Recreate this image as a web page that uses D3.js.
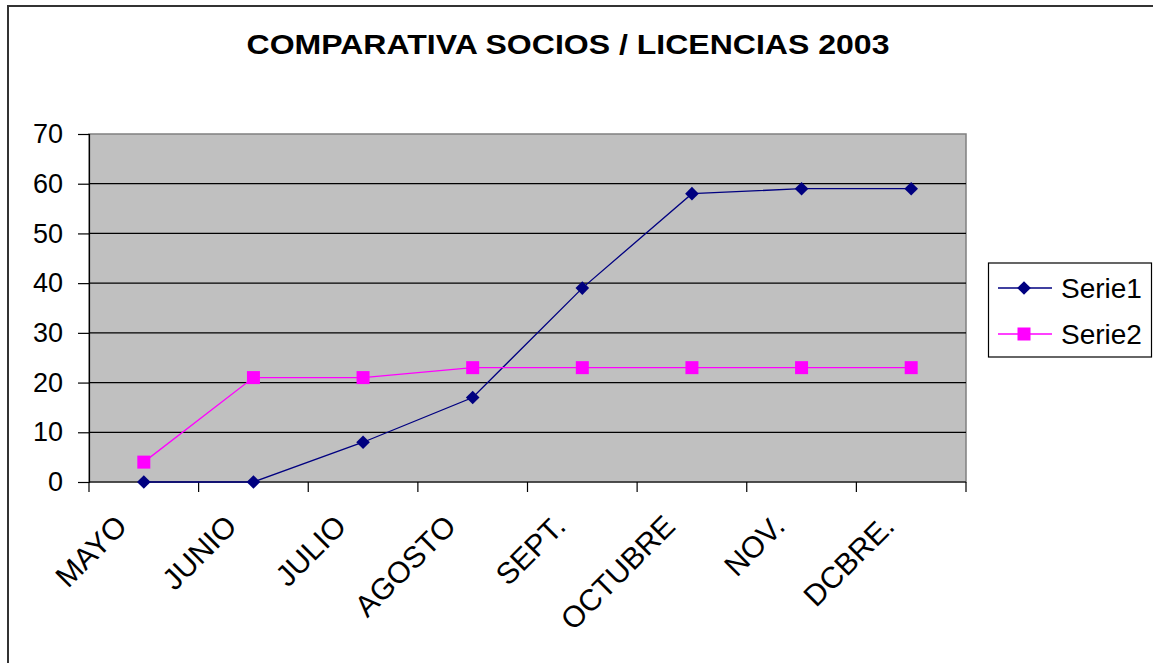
<!DOCTYPE html>
<html>
<head>
<meta charset="utf-8">
<script src="https://cdn.jsdelivr.net/npm/d3@7"></script>
<style>
  body{margin:0;background:#fff;}
  svg{display:block;font-family:Arial,"Liberation Sans",sans-serif;}
</style>
</head>
<body>
<div id="chart"></div>
<script>
// comparativa socios / licencias -- excel-style line chart

const MONTHS=["MAYO","JUNIO","JULIO","AGOSTO","SEPT.","OCTUBRE","NOV.","DCBRE."];
const SERIE1=[0,0,8,17,39,58,59,59];
const SERIE2=[4,21,21,23,23,23,23,23];
const Y_TICKS=[0,10,20,30,40,50,60,70];
const SERIES_NAMES=["Serie1","Serie2"];
const TITLE="COMPARATIVA SOCIOS / LICENCIAS 2003";

const W=1153,H=663;
const PL=89,PR=966,PT=134,PB=482;

const svg=d3.select("#chart").append("svg").attr("width",W).attr("height",H);

// outer chart border
svg.append("rect").attr("x",8).attr("y",6).attr("width",W+20).attr("height",H+20)
  .attr("fill","#fff").attr("stroke","#333").attr("stroke-width",2);

const x=d3.scaleBand().domain(MONTHS).range([PL,PR]);
const y=d3.scaleLinear().domain([0,70]).range([PB,PT]);
const cx=m=>x(m)+x.bandwidth()/2;

// plot area
svg.append("rect").attr("x",PL).attr("y",PT).attr("width",PR-PL).attr("height",PB-PT)
  .attr("fill","#c0c0c0").attr("stroke","#808080").attr("stroke-width",1.5);

// gridlines
svg.append("g").selectAll("line").data(Y_TICKS.filter(t=>t>0&&t<70)).join("line")
  .attr("x1",PL).attr("x2",PR).attr("y1",d=>y(d)).attr("y2",d=>y(d))
  .attr("stroke","#000").attr("stroke-width",1.2);

// y axis
svg.append("g").attr("transform",`translate(${PL},0)`)
  .call(d3.axisLeft(y).tickValues(Y_TICKS).tickSize(11).tickPadding(15))
  .call(a=>a.select(".domain").attr("stroke","#000").attr("stroke-width",1.2))
  .call(a=>a.selectAll("line").attr("stroke","#000").attr("stroke-width",1.2))
  .call(a=>a.selectAll("text").attr("fill","#000").style("font-size","27px")
    .style("font-family","Arial,'Liberation Sans',sans-serif"));

// x axis line + ticks at band edges
svg.append("line").attr("x1",PL).attr("x2",PR).attr("y1",y(0)).attr("y2",y(0))
  .attr("stroke","#000").attr("stroke-width",1.2);
const edges=MONTHS.map(m=>x(m)).concat([PR]);
svg.append("g").selectAll("line").data(edges).join("line")
  .attr("x1",d=>d).attr("x2",d=>d).attr("y1",y(0)).attr("y2",y(0)+10)
  .attr("stroke","#000").attr("stroke-width",1.2);

// x labels rotated
svg.append("g").selectAll("text").data(MONTHS).join("text")
  .attr("transform",d=>`translate(${cx(d)-15},528) rotate(-45)`)
  .attr("text-anchor","end").attr("fill","#000").style("font-size","30px")
  .text(d=>d);

// lines
const line=d3.line().x((d,i)=>cx(MONTHS[i])).y(d=>y(d));
svg.append("path").datum(SERIE1).attr("d",line)
  .attr("fill","none").attr("stroke","#000080").attr("stroke-width",1.3);
svg.append("path").datum(SERIE2).attr("d",line)
  .attr("fill","none").attr("stroke","#ff00ff").attr("stroke-width",1.3);

const diamond=(px,py,r)=>`M${px},${py-r}L${px+r},${py}L${px},${py+r}L${px-r},${py}Z`;

svg.append("g").selectAll("rect").data(SERIE2).join("rect")
  .attr("x",(d,i)=>cx(MONTHS[i])-6.5).attr("y",d=>y(d)-6.5)
  .attr("width",13).attr("height",13).attr("fill","#ff00ff");
svg.append("g").selectAll("path").data(SERIE1).join("path")
  .attr("d",(d,i)=>diamond(cx(MONTHS[i]),y(d),6.8)).attr("fill","#000080");

// title
svg.append("text").attr("x",568).attr("y",54).attr("text-anchor","middle")
  .attr("fill","#000").style("font-size","28px").style("font-weight","bold")
  .attr("textLength",643).attr("lengthAdjust","spacingAndGlyphs")
  .text(TITLE);

// legend
const lg=svg.append("g");
lg.append("rect").attr("x",988.5).attr("y",263).attr("width",163).attr("height",94)
  .attr("fill","#fff").attr("stroke","#000").attr("stroke-width",1.2);
const LCOL=["#000080","#ff00ff"];
SERIES_NAMES.forEach((name,i)=>{
  const ly=288+i*46;
  lg.append("line").attr("x1",998).attr("x2",1052).attr("y1",ly).attr("y2",ly)
    .attr("stroke",LCOL[i]).attr("stroke-width",1.3);
  if(i===0) lg.append("path").attr("d",diamond(1024,ly,6.8)).attr("fill",LCOL[i]);
  else lg.append("rect").attr("x",1024-6.5).attr("y",ly-6.5).attr("width",13).attr("height",13).attr("fill",LCOL[i]);
  lg.append("text").attr("x",1061).attr("y",ly+10).attr("fill","#000")
    .style("font-size","28px").text(name);
});
</script>
</body>
</html>
